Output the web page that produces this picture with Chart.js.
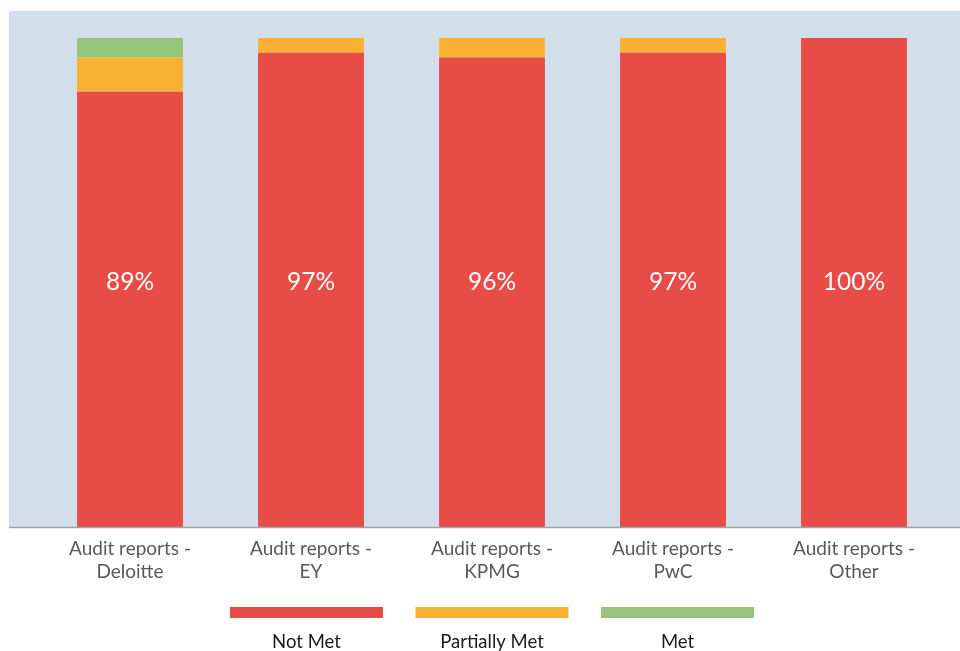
<!DOCTYPE html>
<html><head><meta charset="utf-8">
<script src="https://cdn.jsdelivr.net/npm/chart.js@4/dist/chart.umd.min.js"></script>
<style>html,body{margin:0;padding:0;background:#fff}#wrap{width:960px;height:651px;position:relative}</style>
</head><body><div id="wrap"><canvas id="c" width="960" height="651"></canvas></div>
<script>
const categories = [["Audit reports -","Deloitte"],["Audit reports -","EY"],["Audit reports -","KPMG"],["Audit reports -","PwC"],["Audit reports -","Other"]];
const notMet = [89, 97, 96, 97, 100];
const partiallyMet = [7, 3, 4, 3, 0];
const met = [4, 0, 0, 0, 0];
const seriesNames = ["Not Met", "Partially Met", "Met"];
const colors = ["#e84c47", "#f9b134", "#96c47a"];
const FONT = "Lato, 'Open Sans', sans-serif";

const bgPlugin = {
  id: 'bg',
  beforeDraw(chart) {
    const {ctx, chartArea} = chart;
    ctx.save();
    ctx.fillStyle = '#d2dfeb';
    ctx.fillRect(9, 11, chart.width - 9, chartArea.bottom - 11);
    ctx.restore();
  },
  afterDatasetsDraw(chart) {
    const {ctx, chartArea} = chart;
    ctx.save();
    ctx.strokeStyle = '#a3a3a3';
    ctx.lineWidth = 1.5;
    ctx.beginPath();
    ctx.moveTo(9, chartArea.bottom + 0.5);
    ctx.lineTo(chart.width, chartArea.bottom + 0.5);
    ctx.stroke();
    // value labels
    const meta = chart.getDatasetMeta(0);
    const y = chart.scales.y.getPixelForValue(50.1);
    ctx.fillStyle = '#ffffff';
    ctx.font = '24.5px ' + FONT;
    ctx.textAlign = 'center';
    ctx.textBaseline = 'middle';
    meta.data.forEach((bar, i) => {
      ctx.fillText(notMet[i] + '%', bar.x, y);
    });
    // legend
    const cx = (chartArea.left + chartArea.right) / 2;
    const step = 185.5, w = 153, h = 11, top = 607;
    chart.data.datasets.forEach((ds, i) => {
      const x = cx + (i - 1) * step;
      ctx.fillStyle = ds.backgroundColor;
      ctx.fillRect(x - w / 2, top, w, h);
      ctx.fillStyle = '#1a1a1a';
      ctx.font = '18.5px ' + FONT;
      ctx.fillText(ds.label, x, 642);
    });
    ctx.restore();
  }
};

new Chart(document.getElementById('c'), {
  type: 'bar',
  data: {
    labels: categories,
    datasets: [
      {label: seriesNames[0], data: notMet, backgroundColor: colors[0]},
      {label: seriesNames[1], data: partiallyMet, backgroundColor: colors[1]},
      {label: seriesNames[2], data: met, backgroundColor: colors[2]}
    ]
  },
  options: {
    responsive: false,
    animation: false,
    layout: {padding: {left: 39.5, right: 15.5, top: 38, bottom: 0}},
    datasets: {bar: {categoryPercentage: 1, barPercentage: 0.585, borderWidth: 0}},
    plugins: {legend: {display: false}, tooltip: {enabled: false}},
    scales: {
      x: {
        stacked: true,
        grid: {display: false, drawTicks: false},
        border: {display: false},
        ticks: {color: '#595959', font: {family: FONT, size: 19, lineHeight: 1.22}, padding: 10, maxRotation: 0},
        afterFit(s) { s.height = 124; }
      },
      y: {
        stacked: true, display: false, min: 0, max: 100
      }
    }
  },
  plugins: [bgPlugin]
});
</script></body></html>
